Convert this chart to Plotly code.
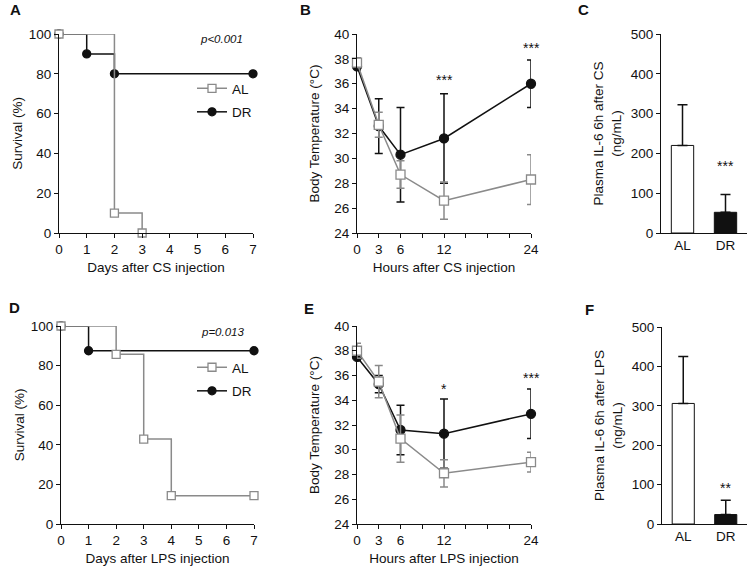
import plotly.graph_objects as go

# ---------------- data ----------------
# Panel A: survival after CS (Kaplan-Meier steps)
a_days_al = [0, 2, 3]
a_surv_al = [100, 10, 0]
a_days_dr = [0, 1, 2, 7]
a_surv_dr = [100, 90, 80, 80]

# Panel B: body temperature after CS
hours = [0, 3, 6, 12, 24]
b_temp_al = [37.7, 32.7, 28.7, 26.6, 28.3]
b_err_al = [0.4, 1.0, 1.1, 1.5, 2.0]
b_temp_dr = [37.4, 32.6, 30.3, 31.6, 36.0]
b_err_dr = [0.3, 2.2, 3.8, 3.6, 1.9]
b_stars = [(12, 36.3, "***"), (24, 38.9, "***")]

# Panel C: plasma IL-6 after CS
groups = ["AL", "DR"]
c_il6 = [220, 52]
c_err = [102, 45]
c_stars = (1, 168, "***")

# Panel D: survival after LPS
d_days_al = [0, 2, 3, 4, 7]
d_surv_al = [100, 85.7, 42.9, 14.3, 14.3]
d_days_dr = [0, 1, 7]
d_surv_dr = [100, 87.5, 87.5]

# Panel E: body temperature after LPS
e_temp_al = [38.0, 35.5, 30.9, 28.1, 29.0]
e_err_al = [0.6, 1.3, 1.9, 1.1, 0.8]
e_temp_dr = [37.5, 35.3, 31.6, 31.3, 32.9]
e_err_dr = [0.3, 0.7, 2.0, 2.8, 2.0]
e_stars = [(12, 34.9, "*"), (24, 35.8, "***")]

# Panel F: plasma IL-6 after LPS
f_il6 = [306, 24]
f_err = [119, 36]
f_stars = (1, 92, "**")

GRAY = "#8a8a8a"
BLACK = "#111111"
FONT = "Liberation Sans, Arial, sans-serif"
W, H = 750, 577

def xd(a, b):
    return [a / W, b / W]

def yd(top, bottom):
    return [1 - bottom / H, 1 - top / H]

fig = go.Figure()

def km(x, y, color, sym, name, xa, ya, legend, rank):
    fig.add_trace(go.Scatter(
        x=x, y=y, mode="lines+markers", line=dict(shape="hv", color=color, width=1.5),
        marker=dict(symbol=sym, size=8, color="white" if sym == "square" else color,
                    line=dict(color=color, width=1.3)),
        name=name, xaxis=xa, yaxis=ya, legend=legend, showlegend=True, legendrank=rank,
        legendgroup=name + legend, cliponaxis=False))

# A
km(a_days_dr, a_surv_dr, BLACK, "circle", "DR", "x", "y", "legend", 2)
km(a_days_al, a_surv_al, GRAY, "square", "AL", "x", "y", "legend", 1)
# D
km(d_days_dr, d_surv_dr, BLACK, "circle", "DR", "x4", "y4", "legend2", 2)
km(d_days_al, d_surv_al, GRAY, "square", "AL", "x4", "y4", "legend2", 1)

def temp(y, err, color, sym, xa, ya):
    fig.add_trace(go.Scatter(
        x=hours, y=y, mode="lines+markers", line=dict(color=color, width=1.5),
        marker=dict(symbol=sym, size=9, color="white" if sym == "square" else color,
                    line=dict(color=color, width=1.3)),
        error_y=dict(type="data", array=err, color=color, thickness=1.5, width=4),
        xaxis=xa, yaxis=ya, showlegend=False, cliponaxis=False))

temp(b_temp_dr, b_err_dr, BLACK, "circle", "x2", "y2")
temp(b_temp_al, b_err_al, GRAY, "square", "x2", "y2")
temp(e_temp_dr, e_err_dr, BLACK, "circle", "x5", "y5")
temp(e_temp_al, e_err_al, GRAY, "square", "x5", "y5")

def bars(vals, err, xa, ya):
    fig.add_trace(go.Bar(
        x=groups, y=vals, width=0.52,
        marker=dict(color=["white", BLACK], line=dict(color=BLACK, width=1)),
        error_y=dict(type="data", array=err, arrayminus=[0, 0], symmetric=False,
                     color=BLACK, thickness=1.5, width=5),
        xaxis=xa, yaxis=ya, showlegend=False))

bars(c_il6, c_err, "x3", "y3")
bars(f_il6, f_err, "x6", "y6")

SF = dict(size=14, color=BLACK, family=FONT)
ann = []
for (x, y, t) in b_stars:
    ann.append(dict(x=x, y=y, xref="x2", yref="y2", text=t, showarrow=False, font=SF))
for (x, y, t) in e_stars:
    ann.append(dict(x=x, y=y, xref="x5", yref="y5", text=t, showarrow=False, font=SF))
ann.append(dict(x=groups[c_stars[0]], y=c_stars[1], xref="x3", yref="y3", text=c_stars[2],
                showarrow=False, font=SF))
ann.append(dict(x=groups[f_stars[0]], y=f_stars[1], xref="x6", yref="y6", text=f_stars[2],
                showarrow=False, font=SF))
ann.append(dict(x=5.85, y=97.5, xref="x", yref="y", text="<i>p<0.001</i>", showarrow=False,
                font=dict(size=11.5, color=BLACK, family=FONT)))
ann.append(dict(x=5.85, y=97, xref="x4", yref="y4", text="<i>p=0.013</i>", showarrow=False,
                font=dict(size=11.5, color=BLACK, family=FONT)))
for (t, px, py) in [("A", 8, 10), ("B", 298, 10), ("C", 576, 10),
                    ("D", 7, 307), ("E", 302, 308), ("F", 583, 309)]:
    ann.append(dict(x=px / W, y=1 - py / H, xref="paper", yref="paper", text="<b>%s</b>" % t,
                    showarrow=False, xanchor="left", yanchor="middle",
                    font=dict(size=15, color=BLACK, family=FONT)))

base = dict(showline=True, linecolor=BLACK, linewidth=1, ticks="outside", tickcolor=BLACK,
            ticklen=4, showgrid=False, zeroline=False, automargin=False,
            tickfont=dict(size=13.5, color=BLACK, family=FONT),
            title_font=dict(size=13.5, color=BLACK, family=FONT))

def ax(**kw):
    d = dict(base)
    d.update(kw)
    return d

hour_ticks = [0, 3, 6, 9, 12, 15, 18, 21, 24]
hour_text = ["0", "3", "6", "", "12", "", "", "", "24"]

fig.update_layout(
    width=W, height=H, margin=dict(l=0, r=0, t=0, b=0),
    template="none", paper_bgcolor="white", plot_bgcolor="white",
    font=dict(family=FONT, color=BLACK),
    xaxis=ax(domain=xd(59, 253), range=[0, 7], tickvals=list(range(8)), anchor="y",
             title=dict(text="Days after CS injection", standoff=6)),
    yaxis=ax(domain=yd(34, 233), range=[0, 100], tickvals=[0, 20, 40, 60, 80, 100], anchor="x",
             title=dict(text="Survival (%)", standoff=3)),
    xaxis2=ax(domain=xd(357, 531), range=[0, 24], tickvals=hour_ticks, ticktext=hour_text,
              anchor="y2", title=dict(text="Hours after CS injection", standoff=6)),
    yaxis2=ax(domain=yd(34, 233), range=[24, 40], tickvals=list(range(24, 41, 2)), anchor="x2",
              title=dict(text="Body Temperature (°C)", standoff=11)),
    xaxis3=ax(domain=xd(661, 747), range=[-0.5, 1.5], ticks="", anchor="y3"),
    yaxis3=ax(domain=yd(34, 233), range=[0, 500], tickvals=[0, 100, 200, 300, 400, 500],
              anchor="x3", title=dict(text="Plasma IL-6 6h after CS<br>(ng/mL)", standoff=6)),
    xaxis4=ax(domain=xd(61, 254), range=[0, 7], tickvals=list(range(8)), anchor="y4",
              title=dict(text="Days after LPS injection", standoff=6)),
    yaxis4=ax(domain=yd(326, 524), range=[0, 100], tickvals=[0, 20, 40, 60, 80, 100], anchor="x4",
              title=dict(text="Survival (%)", standoff=3)),
    xaxis5=ax(domain=xd(357, 531), range=[0, 24], tickvals=hour_ticks, ticktext=hour_text,
              anchor="y5", title=dict(text="Hours after LPS injection", standoff=6)),
    yaxis5=ax(domain=yd(326, 524), range=[24, 40], tickvals=list(range(24, 41, 2)), anchor="x5",
              title=dict(text="Body Temperature (°C)", standoff=11)),
    xaxis6=ax(domain=xd(662, 747), range=[-0.5, 1.5], ticks="", anchor="y6"),
    yaxis6=ax(domain=yd(327, 524), range=[0, 500], tickvals=[0, 100, 200, 300, 400, 500],
              anchor="x6", title=dict(text="Plasma IL-6 6h after LPS<br>(ng/mL)", standoff=6)),
    legend=dict(x=192 / W, y=1 - 73 / H, xanchor="left", yanchor="top", bgcolor="rgba(0,0,0,0)",
                traceorder="grouped", tracegroupgap=3, font=dict(size=13.5, color=BLACK, family=FONT)),
    legend2=dict(x=192 / W, y=1 - 352 / H, xanchor="left", yanchor="top", bgcolor="rgba(0,0,0,0)",
                 traceorder="grouped", tracegroupgap=3, font=dict(size=13.5, color=BLACK, family=FONT)),
    annotations=ann,
)

fig.write_html("out.html", config={"displayModeBar": False},
               post_script="document.body.style.margin='0';document.body.style.overflow='hidden';")
